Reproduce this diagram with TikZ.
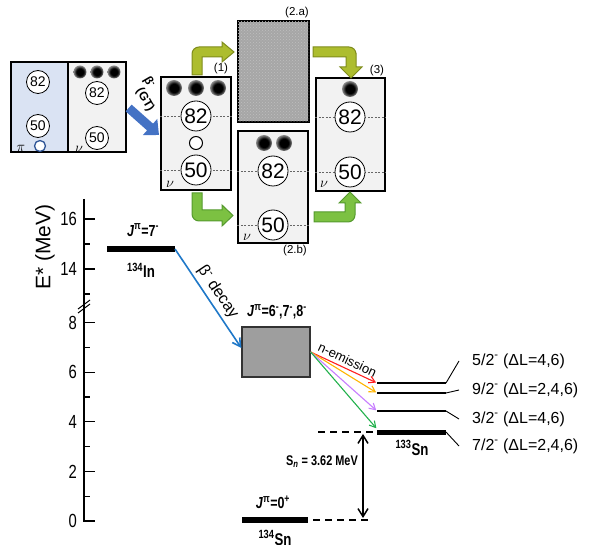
\documentclass[tikz,border=0pt]{standalone}
\usepackage{fontspec}
\setmainfont{Liberation Sans}
\newfontfamily\narrowfont[FakeStretch=0.78]{Liberation Sans}
\usetikzlibrary{arrows.meta,patterns}

\definecolor{shellgray}{HTML}{F2F2F2}
\definecolor{pifill}{HTML}{DAE3F3}
\definecolor{pihole}{HTML}{2F5597}
\definecolor{gtblue}{HTML}{4472C4}
\definecolor{decayblue}{HTML}{1F78C8}
\definecolor{olivefill}{HTML}{ADBD2E}
\definecolor{oliveedge}{HTML}{7F8C1C}
\definecolor{greenfill}{HTML}{7CC142}
\definecolor{greenedge}{HTML}{559A2E}
\definecolor{nred}{HTML}{FF1F1F}
\definecolor{norange}{HTML}{FFB400}
\definecolor{nviolet}{HTML}{C77DFF}
\definecolor{ngreen}{HTML}{22B14C}

\pgfdeclareradialshading{dotball}{\pgfpoint{0bp}{0bp}}{color(0bp)=(black); color(14bp)=(black); color(25bp)=(black!45); color(50bp)=(black!45)}

\newcommand\fsz[1]{\fontsize{#1}{#1}\selectfont}

\tikzset{
  shell/.style={draw, line width=1.3pt, fill=shellgray, inner sep=0pt},
  num/.style={circle, draw, line width=0.8pt, fill=white, inner sep=0pt, minimum size=30pt, font=\fsz{21}},
  smallnum/.style={num, minimum size=23pt, font=\fsz{14}},
  nucl/.style={circle, inner sep=0pt, minimum size=16pt, shade, shading=dotball},
  hole/.style={circle, draw, line width=1pt, fill=white, inner sep=0pt, minimum size=13pt},
  gap/.style={dash pattern=on 2pt off 1.5pt, black!60, line width=0.6pt},
  tag/.style={font=\fsz{11.5}},
  orb/.style={font=\fsz{14}},
  bentolive/.style={fill=olivefill, draw=oliveedge, line width=1pt},
  bentgreen/.style={fill=greenfill, draw=greenedge, line width=1pt},
  axisline/.style={line width=1.2pt},
  ticklbl/.style={anchor=east, inner sep=1pt, font=\narrowfont\fsz{19}},
  jlbl/.style={font=\narrowfont\bfseries\fsz{16}},
  isolbl/.style={font=\narrowfont\bfseries\fsz{17}},
  lvl/.style={line width=1.5pt},
  gslvl/.style={line width=6pt},
  kink/.style={line width=0.9pt},
  lvllbl/.style={anchor=west, inner sep=1pt, font=\fsz{16}},
  emit/.style={line width=1.1pt, shorten >=1pt, -{Straight Barb[length=6pt,width=7pt]}},
  sep/.style={line width=2pt, dash pattern=on 7pt off 5pt},
}

\begin{document}
\begin{tikzpicture}[x=1pt,y=-1pt]
  \useasboundingbox (0,0) rectangle (594,545);

  % shells of 134In
  \node[shell, fill=pifill, minimum width=57pt, minimum height=90pt] (pibox) at (39.5,107) {};
  \node[shell, minimum width=58pt, minimum height=90pt] (nubox) at (97,107) {};
  \node[smallnum] (p82) at (38,82) {82};
  \node[smallnum] (p50) at (38,126) {50};
  \node[smallnum] (v82) at (97,93) {82};
  \node[smallnum] (v50) at (97,138) {50};
  \foreach \xx in {80,97,114} \node[nucl, minimum size=13pt] (vd\xx) at (\xx,72) {};
  \node[hole, draw=pihole, line width=1.3pt, minimum size=11pt] (phole) at (40,146) {};
  \node[orb] at (21,148) {$\pi$};
  \node[orb] at (79,149) {$\nu$};

  \coordinate (gtend) at (159,135);
  \draw[gtblue, line width=9pt, -{Triangle[length=12pt,width=21pt]}] ([shift={(2,1)}]nubox.east) -- (gtend);
  \node[font=\bfseries\fsz{12}, rotate=-60, inner sep=0pt] (gtb) at (149,82) {β\textsuperscript{-}};
  \node[font=\bfseries\fsz{12}, rotate=-60, inner sep=0pt] (gtl) at (145,100) {(GT)};

  % box (1)
  \node[shell, minimum width=70pt, minimum height=113pt] (box1) at (196,133.5) {};
  \node[tag] at (221,69) {(1)};
  \foreach \yy in {116,170} \draw[gap] (box1.west |- 0,\yy) -- (box1.east |- 0,\yy);
  \node[num] (b1n82) at (196,116) {82};
  \node[hole] (b1h) at (196,143) {};
  \node[num] (b1n50) at (196,170) {50};
  \foreach \xx in {174,196,218} \node[nucl] (b1d\xx) at (\xx,88) {};
  \node[orb] at (170,184) {$\nu$};

  % box (2.a)
  \node[shell, fill=black!35, postaction={pattern=crosshatch dots, pattern color=white!75!black}, minimum width=71pt, minimum height=101pt] (box2a) at (273.5,71.5) {};
  \node[tag] at (297,13) {(2.a)};

  % box (2.b)
  \node[shell, minimum width=70pt, minimum height=112pt] (box2b) at (273,187) {};
  \node[tag] at (295,251) {(2.b)};
  \foreach \yy in {171,225} \draw[gap] (box2b.west |- 0,\yy) -- (box2b.east |- 0,\yy);
  \node[num] (b2n82) at (273,171) {82};
  \node[num] (b2n50) at (273,225) {50};
  \foreach \xx in {264,284} \node[nucl] (b2d\xx) at (\xx,143) {};
  \node[orb] at (247,237) {$\nu$};

  % box (3)
  \node[shell, minimum width=69pt, minimum height=113pt] (box3) at (350.5,134.5) {};
  \node[tag] at (377,71) {(3)};
  \foreach \yy in {117,172} \draw[gap] (box3.west |- 0,\yy) -- (box3.east |- 0,\yy);
  \node[num] (b3n82) at (350,117) {82};
  \node[num] (b3n50) at (350,172) {50};
  \node[nucl] (b3d) at (350,89) {};
  \node[orb] at (324,184) {$\nu$};

  % bent arrows
  \draw[bentolive] (192,75) -- (192,60) [rounded corners=7pt] -- (192,47) -- (207,47) [sharp corners] -- (222,47) -- (222,42) -- (234,52) -- (222,62) -- (222,57) -- (202,57) -- (202,75) -- cycle;
  \draw[bentolive] (313,47) -- (330,47) [rounded corners=7pt] -- (356,47) -- (356,60) [sharp corners] -- (356,67) -- (362,67) -- (351,78) -- (340,67) -- (346,67) -- (346,57) -- (313,57) -- cycle;
  \draw[bentgreen] (192,193) -- (192,208) [rounded corners=7pt] -- (192,221) -- (208,221) [sharp corners] -- (222,221) -- (222,226) -- (233,215.5) -- (222,205) -- (222,210) -- (202,210) -- (202,193) -- cycle;
  \draw[bentgreen] (314,212) -- (345,212) -- (345,203) -- (339,203) -- (350,192) -- (361,203) -- (355,203) -- (355,208) [rounded corners=7pt] -- (355,222) -- (340,222) [sharp corners] -- (314,222) -- cycle;

  % energy axis
  \draw[axisline] (84,199) -- (84,521) -- (95,521);
  \draw[line width=1pt] (78,309) -- (90,300) (78,313) -- (90,304);
  \foreach \ee in {14,16} {
    \draw[axisline] (84,{269-(\ee-14)*25}) -- (95,{269-(\ee-14)*25});
    \node[ticklbl] at (78,{269-(\ee-14)*25}) {\ee};
  }
  \foreach \ee in {13,15} \draw[axisline] (84,{269-(\ee-14)*25}) -- (90,{269-(\ee-14)*25});
  \foreach \ee in {2,4,6,8} {
    \draw[axisline] (84,{521-24.8*\ee}) -- (95,{521-24.8*\ee});
  }
  \foreach \ee in {0,2,4,6,8} \node[ticklbl] at (78,{521-24.8*\ee}) {\ee};
  \foreach \ee in {1,3,5,7} \draw[axisline] (84,{521-24.8*\ee}) -- (90,{521-24.8*\ee});
  \node[font=\fsz{21}, rotate=90] (elbl) at (45,247) {E* (MeV)};

  % 134In
  \coordinate (inL) at (107,249);
  \coordinate (inR) at (175,249);
  \draw[gslvl] (inL) -- (inR);
  \node[jlbl] at (143,230) {\textit{J}\textsuperscript{π}=7\textsuperscript{-}};
  \node[isolbl] at (141,270) {\textsuperscript{134}In};

  % compound state
  \node[draw=black!80, line width=1.3pt, fill=black!38, minimum width=68pt, minimum height=50pt, inner sep=0pt] (comp) at (276,352) {};
  \node[jlbl] at (277,312) {\textit{J}\textsuperscript{π}=6\textsuperscript{-},7\textsuperscript{-},8\textsuperscript{-}};
  \draw[decayblue, line width=1.6pt, -{Straight Barb[length=8pt,width=9pt]}] (inR) -- ([yshift=4pt]comp.west)
    node[midway, sloped, above, text=black, font=\fsz{16}] {β\textsuperscript{-} decay};

  % 133Sn levels
  \foreach \nm/\yy in {52/383,92/393,32/411,72/432} {
    \coordinate (w\nm) at (377,\yy);
    \coordinate (e\nm) at (446,\yy);
  }
  \draw[lvl] (w52) -- (e52);
  \draw[lvl] (w92) -- (e92);
  \draw[lvl] (w32) -- (e32);
  \draw[gslvl, line width=5pt] (w72) -- (e72);
  \node[lvllbl] (t52) at (471,361) {5/2\textsuperscript{-} (ΔL=4,6)};
  \node[lvllbl] (t92) at (471,390) {9/2\textsuperscript{-} (ΔL=2,4,6)};
  \node[lvllbl] (t32) at (471,419) {3/2\textsuperscript{-} (ΔL=4,6)};
  \node[lvllbl] (t72) at (471,446) {7/2\textsuperscript{-} (ΔL=2,4,6)};
  \draw[kink] (e52) -- ([xshift=-12pt]t52.west);
  \draw[kink] (e92) -- ([xshift=-12pt]t92.west);
  \draw[kink] (e32) -- ([xshift=-12pt]t32.west);
  \draw[kink] (e72) -- ([xshift=-12pt]t72.west);
  \node[isolbl] at (412,448) {\textsuperscript{133}Sn};

  % neutron emission
  \draw[emit, nred] (comp.east) -- (w52) node[midway, sloped, above, text=black, font=\fsz{13}] {n-emission};
  \draw[emit, norange] (comp.east) -- (w92);
  \draw[emit, nviolet] (comp.east) -- (w32);
  \draw[emit, ngreen] (comp.east) -- ([yshift=3pt]w72);

  % 134Sn and S_n
  \coordinate (snw) at (318,432);
  \draw[sep] (snw) -- (w72);
  \coordinate (gsL) at (242,520);
  \coordinate (gsR) at (308,520);
  \coordinate (gsd) at (370,520);
  \draw[gslvl] (gsL) -- (gsR);
  \draw[sep] ([xshift=5pt]gsR) -- (gsd);
  \coordinate (snTop) at (363,434);
  \coordinate (snBot) at (363,518);
  \draw[line width=1.5pt, {Straight Barb[length=8pt,width=10pt]}-{Straight Barb[length=8pt,width=10pt]}] (snTop) -- (snBot);
  \node[jlbl, font=\narrowfont\bfseries\fsz{14}] at (322,462) {S\textsubscript{\textit{n}} = 3.62 MeV};
  \node[jlbl] at (273,502) {\textit{J}\textsuperscript{π}=0\textsuperscript{+}};
  \node[isolbl] at (275,538) {\textsuperscript{134}Sn};
\end{tikzpicture}
\end{document}
